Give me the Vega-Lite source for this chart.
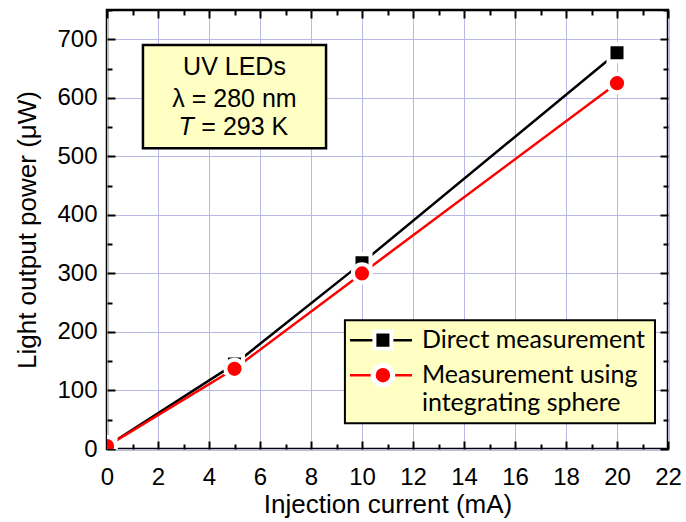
{
  "$schema": "https://vega.github.io/schema/vega-lite/v6.json",
  "width": 561,
  "height": 439,
  "autosize": {"type": "none"},
  "padding": {"left": 107, "top": 10, "right": 18, "bottom": 73},
  "config": {
    "view": {"stroke": "black", "strokeWidth": 2.5},
    "font": "Liberation Sans"
  },
  "datasets": {
    "series": [
      {"series": "Direct", "current": 0, "power": 5},
      {"series": "Direct", "current": 5, "power": 145},
      {"series": "Direct", "current": 10, "power": 318},
      {"series": "Direct", "current": 20, "power": 677},
      {"series": "Sphere", "current": 0, "power": 5},
      {"series": "Sphere", "current": 5, "power": 137},
      {"series": "Sphere", "current": 10, "power": 300},
      {"series": "Sphere", "current": 20, "power": 625}
    ],
    "one": [{"item": "annotation"}]
  },
  "resolve": {"axis": {"x": "independent", "y": "independent"}},
  "layer": [
    {
      "data": {"name": "one"},
      "mark": {"type": "rect", "fill": "#ffffc4", "stroke": "black", "strokeWidth": 2.5},
      "encoding": {
        "x": {"datum": 1.41, "type": "quantitative",
          "scale": {"domain": [0, 22], "nice": false, "zero": false},
          "axis": {"orient": "bottom", "values": [0, 2, 4, 6, 8, 10, 12, 14, 16, 18, 20, 22],
            "grid": true, "gridColor": "#b9b9e8", "gridWidth": 1, "domain": false,
            "tickSize": -8, "tickWidth": 2, "tickColor": "black", "labelFlush": false,
            "labelPadding": 24, "labelFontSize": 24, "labelColor": "black", "labelFont": "Liberation Sans",
            "title": "Injection current (mA)", "titleFontSize": 26, "titleFont": "Liberation Sans",
            "titleFontWeight": "normal", "titleColor": "black", "titlePadding": 2, "zindex": 0}},
        "x2": {"datum": 8.59},
        "y": {"datum": 690, "type": "quantitative",
          "scale": {"domain": [0, 750], "nice": false, "zero": false},
          "axis": {"orient": "left", "values": [0, 100, 200, 300, 400, 500, 600, 700],
            "grid": true, "gridColor": "#b9b9e8", "gridWidth": 1, "domain": false,
            "tickSize": -8, "tickWidth": 2, "tickColor": "black", "labelFlush": false,
            "labelPadding": 18, "labelFontSize": 24, "labelColor": "black", "labelFont": "Liberation Sans",
            "title": "Light output power (μW)", "titleFontSize": 26, "titleFont": "Liberation Sans",
            "titleFontWeight": "normal", "titleColor": "black", "titlePadding": 16, "zindex": 0}},
        "y2": {"datum": 514}
      }
    },
    {
      "data": {"name": "one"},
      "mark": {"type": "rect", "fill": "#ffffc4", "stroke": "black", "strokeWidth": 2},
      "encoding": {
        "x": {"datum": 9.33, "type": "quantitative",
          "axis": {"orient": "top", "values": [0, 2, 4, 6, 8, 10, 12, 14, 16, 18, 20, 22],
            "grid": false, "domain": false, "labels": false, "title": null,
            "tickSize": -8, "tickWidth": 2, "tickColor": "black", "zindex": 1}},
        "x2": {"datum": 21.49},
        "y": {"datum": 220, "type": "quantitative",
          "axis": {"orient": "right", "values": [0, 100, 200, 300, 400, 500, 600, 700],
            "grid": false, "domain": false, "labels": false, "title": null,
            "tickSize": -8, "tickWidth": 2, "tickColor": "black", "zindex": 1}},
        "y2": {"datum": 44}
      }
    },
    {
      "data": {"name": "series"},
      "mark": {"type": "line", "strokeWidth": 2.5},
      "encoding": {
        "x": {"field": "current", "type": "quantitative",
          "axis": {"orient": "bottom", "values": [1, 3, 5, 7, 9, 11, 13, 15, 17, 19, 21],
            "grid": false, "domain": false, "labels": false, "title": null,
            "tickSize": -5, "tickWidth": 2, "tickColor": "black", "zindex": 1}},
        "y": {"field": "power", "type": "quantitative",
          "axis": {"orient": "left", "values": [50, 150, 250, 350, 450, 550, 650, 750],
            "grid": false, "domain": false, "labels": false, "title": null,
            "tickSize": -5, "tickWidth": 2, "tickColor": "black", "zindex": 1}},
        "color": {"field": "series", "type": "nominal",
          "scale": {"domain": ["Direct", "Sphere"], "range": ["black", "#ff0000"]}, "legend": null}
      }
    },
    {
      "data": {"name": "series"},
      "transform": [{"filter": "datum.series === 'Direct'"}],
      "mark": {"type": "point", "shape": "square", "filled": true, "fill": "black", "stroke": "white", "strokeWidth": 4, "strokeOpacity": 1, "opacity": 1, "size": 290, "clip": true},
      "encoding": {
        "x": {"field": "current", "type": "quantitative",
          "axis": {"orient": "top", "values": [1, 3, 5, 7, 9, 11, 13, 15, 17, 19, 21],
            "grid": false, "domain": false, "labels": false, "title": null,
            "tickSize": -5, "tickWidth": 2, "tickColor": "black", "zindex": 1}},
        "y": {"field": "power", "type": "quantitative",
          "axis": {"orient": "right", "values": [50, 150, 250, 350, 450, 550, 650, 750],
            "grid": false, "domain": false, "labels": false, "title": null,
            "tickSize": -5, "tickWidth": 2, "tickColor": "black", "zindex": 1}}
      }
    },
    {
      "data": {"name": "series"},
      "transform": [{"filter": "datum.series === 'Sphere'"}],
      "mark": {"type": "point", "shape": "circle", "filled": true, "fill": "#ff0000", "stroke": "white", "strokeWidth": 4, "strokeOpacity": 1, "opacity": 1, "size": 330, "clip": true},
      "encoding": {
        "x": {"field": "current", "type": "quantitative", "axis": null},
        "y": {"field": "power", "type": "quantitative", "axis": null}
      }
    },
    {
      "data": {"name": "one"},
      "mark": {"type": "text", "fontSize": 25, "fill": "black", "align": "center", "baseline": "middle"},
      "encoding": {
        "x": {"datum": 5.0, "type": "quantitative", "axis": null},
        "y": {"datum": 653, "type": "quantitative", "axis": null},
        "text": {"value": "UV LEDs"}
      }
    },
    {
      "data": {"name": "one"},
      "mark": {"type": "text", "fontSize": 25, "fill": "black", "align": "center", "baseline": "middle"},
      "encoding": {
        "x": {"datum": 5.0, "type": "quantitative", "axis": null},
        "y": {"datum": 598, "type": "quantitative", "axis": null},
        "text": {"value": "λ = 280 nm"}
      }
    },
    {
      "data": {"name": "one"},
      "mark": {"type": "text", "fontSize": 25, "fill": "black", "align": "right", "baseline": "middle", "fontStyle": "italic"},
      "encoding": {
        "x": {"datum": 3.4, "type": "quantitative", "axis": null},
        "y": {"datum": 550, "type": "quantitative", "axis": null},
        "text": {"value": "T"}
      }
    },
    {
      "data": {"name": "one"},
      "mark": {"type": "text", "fontSize": 25, "fill": "black", "align": "left", "baseline": "middle"},
      "encoding": {
        "x": {"datum": 3.7, "type": "quantitative", "axis": null},
        "y": {"datum": 550, "type": "quantitative", "axis": null},
        "text": {"value": "= 293 K"}
      }
    },
    {
      "data": {"name": "one"},
      "mark": {"type": "rule", "color": "black", "strokeWidth": 2.5},
      "encoding": {
        "x": {"datum": 9.53, "type": "quantitative", "axis": null},
        "x2": {"datum": 11.96},
        "y": {"datum": 186, "type": "quantitative", "axis": null}
      }
    },
    {
      "data": {"name": "one"},
      "mark": {"type": "point", "shape": "square", "filled": true, "fill": "black", "stroke": "white", "strokeWidth": 4, "strokeOpacity": 1, "opacity": 1, "size": 290},
      "encoding": {
        "x": {"datum": 10.82, "type": "quantitative", "axis": null},
        "y": {"datum": 186, "type": "quantitative", "axis": null}
      }
    },
    {
      "data": {"name": "one"},
      "mark": {"type": "rule", "color": "#ff0000", "strokeWidth": 2.5},
      "encoding": {
        "x": {"datum": 9.53, "type": "quantitative", "axis": null},
        "x2": {"datum": 11.96},
        "y": {"datum": 126, "type": "quantitative", "axis": null}
      }
    },
    {
      "data": {"name": "one"},
      "mark": {"type": "point", "shape": "circle", "filled": true, "fill": "#ff0000", "stroke": "white", "strokeWidth": 5, "strokeOpacity": 1, "opacity": 1, "size": 380},
      "encoding": {
        "x": {"datum": 10.82, "type": "quantitative", "axis": null},
        "y": {"datum": 126, "type": "quantitative", "axis": null}
      }
    },
    {
      "data": {"name": "one"},
      "mark": {"type": "text", "fontSize": 25, "font": "Lato", "fill": "black", "align": "left", "baseline": "middle"},
      "encoding": {
        "x": {"datum": 12.35, "type": "quantitative", "axis": null},
        "y": {"datum": 186, "type": "quantitative", "axis": null},
        "text": {"value": "Direct measurement"}
      }
    },
    {
      "data": {"name": "one"},
      "mark": {"type": "text", "fontSize": 25, "font": "Lato", "fill": "black", "align": "left", "baseline": "middle"},
      "encoding": {
        "x": {"datum": 12.35, "type": "quantitative", "axis": null},
        "y": {"datum": 126, "type": "quantitative", "axis": null},
        "text": {"value": "Measurement using"}
      }
    },
    {
      "data": {"name": "one"},
      "mark": {"type": "text", "fontSize": 25, "font": "Lato", "fill": "black", "align": "left", "baseline": "middle"},
      "encoding": {
        "x": {"datum": 12.35, "type": "quantitative", "axis": null},
        "y": {"datum": 79, "type": "quantitative", "axis": null},
        "text": {"value": "integrating sphere"}
      }
    }
  ]
}
